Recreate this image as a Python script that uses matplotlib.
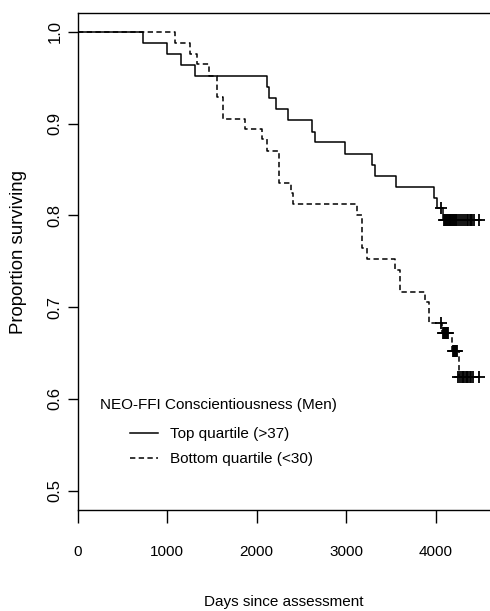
import matplotlib
matplotlib.use("Agg")
import matplotlib.pyplot as plt
from matplotlib.lines import Line2D

# Kaplan-Meier style curves
top_days = [0, 725, 1000, 1155, 1310, 2113, 2140, 2220, 2350, 2617, 2654,
            2990, 3290, 3318, 3555, 3979, 4020, 4085, 4510]
top_surv = [1.0, 0.9877, 0.9764, 0.9637, 0.952, 0.9404, 0.9278, 0.9158,
            0.9045, 0.8914, 0.8805, 0.8671, 0.8551, 0.8431, 0.8315, 0.8188,
            0.8079, 0.7952, 0.7952]
top_cens_days = [4060, 4095, 4105, 4115, 4125, 4135, 4145, 4155, 4165, 4175,
                 4185, 4195, 4205, 4215, 4225, 4240, 4260, 4285, 4310, 4330,
                 4350, 4365, 4380, 4395, 4410, 4425, 4485]
top_cens_surv = [0.8079] + [0.7952] * 26

bot_days = [0, 1086, 1254, 1329, 1471, 1560, 1627, 1870, 2064, 2113, 2253,
            2380, 2408, 3121, 3175, 3233, 3550, 3606, 3886, 3923, 4075, 4180,
            4265, 4500]
bot_surv = [1.0, 0.9877, 0.9764, 0.9655, 0.952, 0.9295, 0.9052, 0.8943,
            0.8834, 0.8704, 0.8352, 0.8243, 0.8126, 0.8007, 0.7644, 0.7524,
            0.7407, 0.7171, 0.7062, 0.6826, 0.6718, 0.652, 0.6245, 0.6245]
bot_cens_days = [4054, 4085, 4095, 4105, 4115, 4125, 4140, 4195, 4205, 4215,
                 4225, 4235, 4250, 4275, 4290, 4305, 4320, 4335, 4350, 4365,
                 4380, 4395, 4420, 4480]
bot_cens_surv = ([0.6826] + [0.6718] * 6 + [0.652] * 5 + [0.6245] * 12)

x_ticks = [0, 1000, 2000, 3000, 4000]
y_ticks = [0.5, 0.6, 0.7, 0.8, 0.9, 1.0]

font = ['Liberation Sans', 'DejaVu Sans']
small = 11

fig = plt.figure(figsize=(4.9, 6.11), dpi=100)
ax = fig.add_axes([77.7 / 490, (611 - 510) / 611, 412.3 / 490, 497 / 611])

ax.step(top_days, top_surv, where='post', color='black', lw=1.1)
ax.step(bot_days, bot_surv, where='post', color='black', lw=1.1,
        dashes=(3.5, 2.2))
ax.plot(top_cens_days, top_cens_surv, '+', color='black', ms=9, mew=1.3)
ax.plot(bot_cens_days, bot_cens_surv, '+', color='black', ms=9, mew=1.3)

ax.set_xlim(0, 4607)
ax.set_ylim(0.479, 1.0207)
ax.spines['right'].set_visible(False)
for s in ['left', 'bottom', 'top']:
    ax.spines[s].set_linewidth(1.0)

ax.set_xticks(x_ticks)
ax.set_xticklabels([str(v) for v in x_ticks], family=font, fontsize=small)
ax.set_yticks(y_ticks)
ax.set_yticklabels(['%.1f' % v for v in y_ticks], family=font, fontsize=12,
                   rotation=90, va='center')
ax.tick_params(axis='x', length=9, width=1.0, pad=16)
ax.tick_params(axis='y', length=7, width=1.0, pad=4)

ax.set_xlabel('Days since assessment', family=font, fontsize=small)
ax.xaxis.set_label_coords(0.5, -0.172)
ax.set_ylabel('Proportion surviving', family=font, fontsize=13.4)
ax.yaxis.set_label_coords(-0.123, 0.519)

# legend title as separate text, R puts it further above the entries
ax.text(22 / 412.3, (510 - 405) / 497, 'NEO-FFI Conscientiousness (Men)',
        transform=ax.transAxes, family=font, fontsize=small,
        ha='left', va='center')
handles = [Line2D([], [], color='black', lw=1.1),
           Line2D([], [], color='black', lw=1.1, dashes=(3.5, 2.2))]
ax.legend(handles, ['Top quartile (>37)', 'Bottom quartile (<30)'],
          frameon=False, loc='upper left',
          bbox_to_anchor=(52.3 / 412.3, (510 - 427) / 497),
          prop={'family': font, 'size': small},
          handlelength=1.8, handletextpad=0.85,
          labelspacing=0.72, borderaxespad=0, borderpad=0)

fig.savefig('out.png', dpi=100)
